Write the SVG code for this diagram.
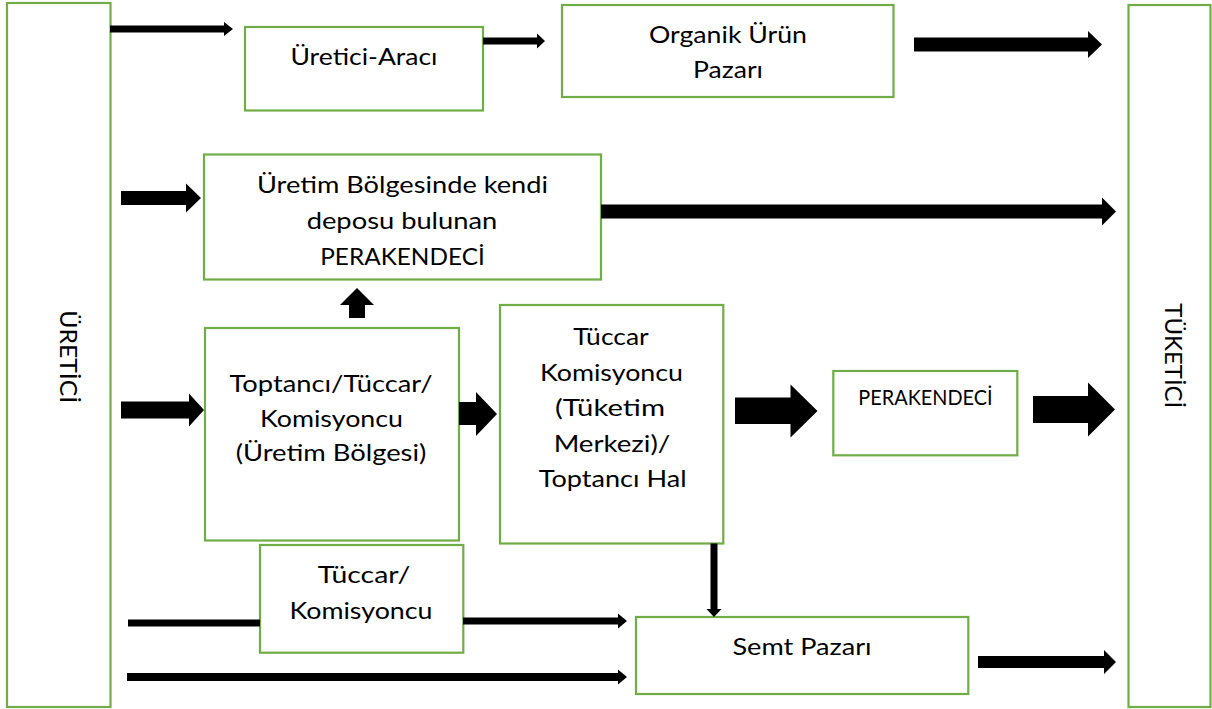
<svg xmlns="http://www.w3.org/2000/svg" width="1212" height="709" viewBox="0 0 1212 709">
<style>
  .box { fill: #ffffff; stroke: #70AD47; stroke-width: 2.2; }
  .lbl { font-family: "Lato", "Liberation Sans", sans-serif; font-size: 23px; fill: #000000; text-anchor: middle; }
  .sm { font-size: 21px; }
  .arr { fill: #000000; stroke: none; }
</style>
<rect x="0" y="0" width="1212" height="709" fill="#ffffff"/>

<g id="uretici">
  <rect class="box" x="7" y="3" width="103.5" height="704"/>
  <text class="lbl" transform="translate(60,356.7) rotate(90)" textLength="93" lengthAdjust="spacingAndGlyphs">ÜRETİCİ</text>
</g>
<g id="tuketici">
  <rect class="box" x="1128.5" y="5" width="82" height="702"/>
  <text class="lbl" transform="translate(1165,355.8) rotate(90)" textLength="105" lengthAdjust="spacingAndGlyphs">TÜKETİCİ</text>
</g>
<g id="uretici-araci">
  <rect class="box" x="245" y="27" width="238" height="83.5"/>
  <text class="lbl" x="364" y="65" textLength="147" lengthAdjust="spacingAndGlyphs">Üretici-Aracı</text>
</g>
<g id="organik">
  <rect class="box" x="562" y="5" width="331.5" height="92"/>
  <text class="lbl" x="728" y="42.7" textLength="158" lengthAdjust="spacingAndGlyphs">Organik Ürün</text>
  <text class="lbl" x="728" y="78.3" textLength="70" lengthAdjust="spacingAndGlyphs">Pazarı</text>
</g>
<g id="depolu-perakendeci">
  <rect class="box" x="204" y="154.5" width="397" height="125"/>
  <text class="lbl" x="402.5" y="192.7" textLength="291" lengthAdjust="spacingAndGlyphs">Üretim Bölgesinde kendi</text>
  <text class="lbl" x="402" y="228.5" textLength="190.6" lengthAdjust="spacingAndGlyphs">deposu bulunan</text>
  <text class="lbl" x="402.5" y="265" textLength="164.5" lengthAdjust="spacingAndGlyphs">PERAKENDECİ</text>
</g>
<g id="toptanci">
  <rect class="box" x="205" y="328" width="254" height="212.5"/>
  <text class="lbl" x="331" y="391.7" textLength="203" lengthAdjust="spacingAndGlyphs">Toptancı/Tüccar/</text>
  <text class="lbl" x="331.5" y="426.7" textLength="143" lengthAdjust="spacingAndGlyphs">Komisyoncu</text>
  <text class="lbl" x="331" y="461" textLength="190.6" lengthAdjust="spacingAndGlyphs">(Üretim Bölgesi)</text>
</g>
<g id="tuccar-komisyoncu-merkez">
  <rect class="box" x="500" y="305" width="223.3" height="238.5"/>
  <text class="lbl" x="611" y="345" textLength="75.5" lengthAdjust="spacingAndGlyphs">Tüccar</text>
  <text class="lbl" x="611.5" y="380.7" textLength="143" lengthAdjust="spacingAndGlyphs">Komisyoncu</text>
  <text class="lbl" x="610" y="416" textLength="110" lengthAdjust="spacingAndGlyphs">(Tüketim</text>
  <text class="lbl" x="612" y="451.5" textLength="116.7" lengthAdjust="spacingAndGlyphs">Merkezi)/</text>
  <text class="lbl" x="612.7" y="487.3" textLength="147.7" lengthAdjust="spacingAndGlyphs">Toptancı Hal</text>
</g>
<g id="perakendeci">
  <rect class="box" x="833.3" y="371" width="184" height="84.3"/>
  <text class="lbl sm" x="925.5" y="405" textLength="134.3" lengthAdjust="spacingAndGlyphs">PERAKENDECİ</text>
</g>
<g id="tuccar-komisyoncu">
  <rect class="box" x="260" y="545" width="203.3" height="107.7"/>
  <text class="lbl" x="364" y="583.3" textLength="92.6" lengthAdjust="spacingAndGlyphs">Tüccar/</text>
  <text class="lbl" x="361" y="619.3" textLength="143" lengthAdjust="spacingAndGlyphs">Komisyoncu</text>
</g>
<g id="semt-pazari">
  <rect class="box" x="636" y="617" width="332.3" height="77"/>
  <text class="lbl" x="802" y="655" textLength="139" lengthAdjust="spacingAndGlyphs">Semt Pazarı</text>
</g>

<g id="connectors">
  <polygon class="arr" points="110,25.5 224,25.5 224,22 233,29 224,36 224,32.5 110,32.5"/>
  <polygon class="arr" points="483,37.5 537,37.5 537,33.5 545,41 537,48.5 537,44.5 483,44.5"/>
  <polygon class="arr" points="914,37.5 1088,37.5 1088,31 1102,44.5 1088,58 1088,51.5 914,51.5"/>
  <polygon class="arr" points="121,191 186,191 186,183.5 201,198 186,212.5 186,205 121,205"/>
  <polygon class="arr" points="601,204.5 1102,204.5 1102,197.5 1116,211.5 1102,225.5 1102,218.5 601,218.5"/>
  <polygon class="arr" points="349,318 349,305 340,305 357,288 374,305 365,305 365,318"/>
  <polygon class="arr" points="121,401.5 189,401.5 189,393.5 204,410 189,426.5 189,418.5 121,418.5"/>
  <polygon class="arr" points="459,402 476,402 476,392 497,414 476,436 476,425 459,425"/>
  <polygon class="arr" points="735,397.5 790.5,397.5 790.5,384.5 817.5,411 790.5,437.5 790.5,424 735,424"/>
  <polygon class="arr" points="1033,396 1088,396 1088,382.5 1115,409.5 1088,436.5 1088,423 1033,423"/>
  <rect class="arr" x="128" y="619.5" width="132" height="7"/>
  <polygon class="arr" points="463,617.5 618,617.5 618,613.5 627,621 618,628.5 618,624.5 463,624.5"/>
  <polygon class="arr" points="127,673 618,673 618,669.5 627,677 618,684.5 618,681 127,681"/>
  <polygon class="arr" points="710.5,543.5 717.5,543.5 717.5,609 721.5,609 714,617 706.5,609 710.5,609"/>
  <polygon class="arr" points="978,656 1104,656 1104,650 1116,662 1104,674 1104,668 978,668"/>
</g>
</svg>
